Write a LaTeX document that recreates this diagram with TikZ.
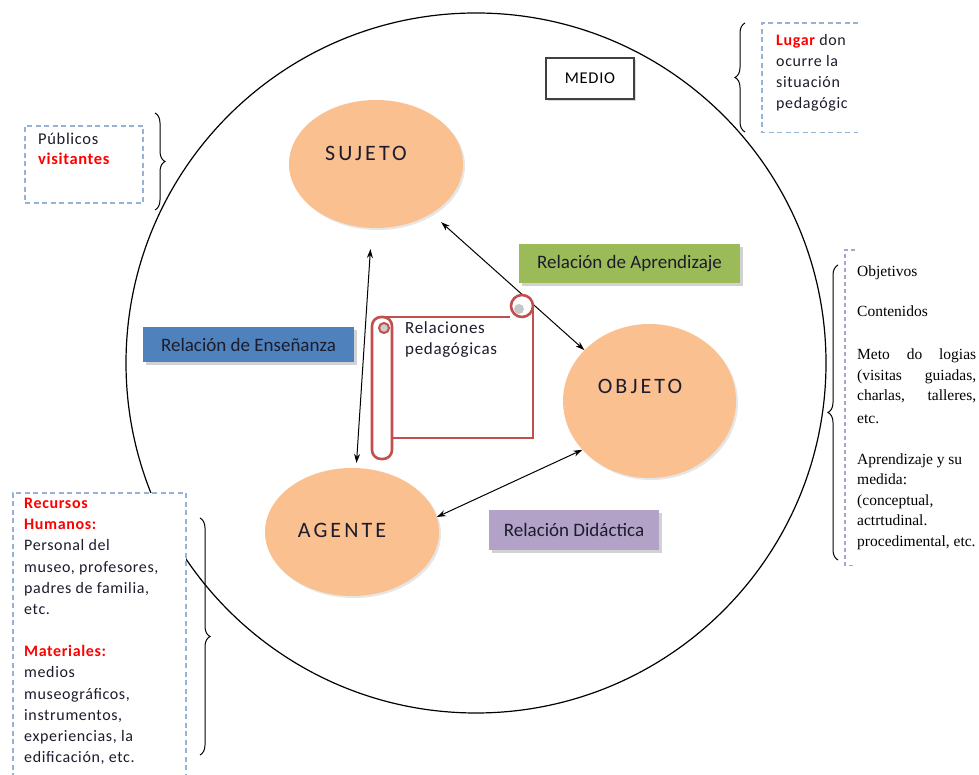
\documentclass[tikz,border=0pt]{standalone}
\usepackage{fontspec}
\setmainfont{Carlito}
\newfontfamily\calspaced[LetterSpace=4]{Carlito}
\newfontfamily\calwide[LetterSpace=14]{Carlito}
\newfontfamily\timesrm{Liberation Serif}
\usetikzlibrary{arrows.meta,positioning,shapes.geometric,shadows,decorations.pathreplacing}
\definecolor{peach}{HTML}{FAC090}
\definecolor{relgreen}{HTML}{9BBB59}
\definecolor{relblue}{HTML}{4F81BD}
\definecolor{relpurple}{HTML}{B3A2C7}
\definecolor{scrollred}{HTML}{C0504D}
\definecolor{dashblue}{HTML}{95B3D7}
\definecolor{dashlav}{HTML}{A5A5CF}
\definecolor{inkdark}{HTML}{1C1C2C}
\newcommand\spreadline[1]{\hbox to 119pt{#1}}

\begin{document}
\begin{tikzpicture}[x=1pt,y=1pt,>={Stealth[length=9pt,width=6pt]},
  actor/.style={ellipse,fill=peach,draw=none,inner sep=0pt,
                drop shadow={shadow xshift=2pt,shadow yshift=-2pt,opacity=0.2}},
  actorlab/.style={font=\calwide\fontsize{22}{26}\selectfont,text=inkdark},
  relbox/.style={draw=none,inner sep=0pt,font=\fontsize{19}{22}\selectfont,text=inkdark,
                 drop shadow={shadow xshift=3pt,shadow yshift=-3pt,fill=black!35,opacity=0.5}},
  rel/.style={<->,line width=1pt},
  notebox/.style={draw=dashblue,line width=1.6pt,dash pattern=on 5pt off 3.5pt,fill=white,inner sep=0pt},
  notetxt/.style={font=\calspaced\fontsize{16}{21.2}\selectfont,text=inkdark,align=left,inner sep=0pt,anchor=north west},
  bracer/.style={decorate,decoration={brace,amplitude=10pt},line width=1pt},
  scrollln/.style={draw=scrollred,line width=2.6pt,fill=white}]

\useasboundingbox (0,0) rectangle (979,775);
\clip (0,0) rectangle (979,775);

% ===== medio (big circle) =====
\node[circle,draw,line width=1.2pt,minimum size=700pt,inner sep=0pt] (medio) at (476,412) {};
\node[draw=black!75,line width=1.5pt,fill=white,minimum width=88pt,minimum height=41pt,inner sep=0pt,
      font=\calspaced\fontsize{16.5}{19}\selectfont,
      drop shadow={shadow xshift=2pt,shadow yshift=-2pt,opacity=0.3}] (mediolab) at (590,696.5) {MEDIO};

% ===== actors =====
\node[actor,minimum width=174pt,minimum height=128pt] (sujeto) at (376,611) {};
\node[actorlab] at ([xshift=-10pt,yshift=11pt]sujeto.center) {SUJETO};
\node[actor,minimum width=173pt,minimum height=154pt] (objeto) at (649.5,374) {};
\node[actorlab] at ([xshift=-9.5pt,yshift=15pt]objeto.center) {OBJETO};
\node[actor,minimum width=174pt,minimum height=128pt] (agente) at (352,243) {};
\node[actorlab] at ([xshift=-10pt,yshift=2pt]agente.center) {AGENTE};

% ===== relations =====
\draw[rel,shorten <=21pt,shorten >=5pt] (sujeto) -- (agente);
\draw[rel,shorten <=13pt] (sujeto) -- (objeto.142);
\draw[rel] (agente.10) -- (objeto.216);

\node[relbox,fill=relgreen,minimum width=221pt,minimum height=39pt] (aprend) at (629.5,511.5) {Relación de Aprendizaje};
\node[relbox,fill=relblue,minimum width=211pt,minimum height=35pt] (ensen) at (248.5,430.5) {Relación de Enseñanza};
\node[relbox,fill=relpurple,minimum width=170pt,minimum height=40pt] (didac) at (574,245) {Relación Didáctica};

% ===== scroll =====
\fill[white] (392,337) rectangle (533,469);
\draw[scrollln] (392,337) -- (533,337) -- (533,469);
\draw[scrollln] (385,458) -- (510,458);
\filldraw[scrollln] (522,469) circle (11);
\fill[gray!45] (519,466) circle (5);
\filldraw[scrollln,rounded corners=9pt] (372,316) rectangle (392,458);
\filldraw[scrollln,line width=2pt,fill=gray!40] (384,447) circle (5);
\node[font=\calspaced\fontsize{17}{21}\selectfont,text=inkdark,align=left,inner sep=0pt,anchor=north west]
      (pedag) at (405,453) {Relaciones\\pedagógicas};

% ===== publicos =====
\node[notebox,minimum width=118pt,minimum height=77pt] (pubbox) at (84,610.5) {};
\node[notetxt,font=\calspaced\fontsize{16.5}{20}\selectfont] (pubtxt) at (38,642) {Públicos\\{\color{red}\bfseries visitantes}};
\draw[bracer] (155,662) -- (155,565);

% ===== lugar =====
\node[minimum width=96pt,minimum height=109pt,inner sep=0pt,anchor=north west] (lugarbox) at (762,752) {};
\draw[notebox] (lugarbox.north east) -- (lugarbox.north west) -- (lugarbox.south west) -- (lugarbox.south east);
\node[notetxt] (lugartxt) at (776,741) {{\color{red}\bfseries Lugar} don\\ocurre la\\situación\\pedagógic};
\draw[bracer] (745,643) -- (745,752);

% ===== recursos =====
\node[notebox,minimum width=173pt,minimum height=300pt,anchor=north west] (recbox) at (12,283) {};
\node[notetxt] (rectxt) at (24,277) {{\color{red}\bfseries Recursos}\\
  {\color{red}\bfseries Humanos:}\\
  Personal del\\
  museo, profesores,\\
  padres de familia,\\
  etc.\\[21pt]
  {\color{red}\bfseries Materiales:}\\
  medios\\
  museográficos,\\
  instrumentos,\\
  experiencias, la\\
  edificación, etc.};
\draw[bracer] (200,257) -- (200,20);

% ===== objetivos =====
\node[minimum width=140pt,minimum height=315pt,inner sep=0pt,anchor=north west] (objbox) at (845,525) {};
\draw[draw=dashlav,line width=1.3pt,dash pattern=on 4pt off 3pt]
  ([xshift=10pt]objbox.north west) -- (objbox.north west) -- (objbox.south west) -- ([xshift=10pt]objbox.south west);
\node[notetxt,font=\timesrm\fontsize{15.5}{20.5}\selectfont,text=black] (objtxt) at (857,509) {Objetivos\\[19.5pt]
  Contenidos\\[22.5pt]
  \spreadline{Meto\hfill do\hfill logias}\\
  \spreadline{(visitas\hfill guiadas,}\\
  \spreadline{charlas,\hfill talleres,}\\[2pt]
  etc.\\[20.5pt]
  Aprendizaje y su\\
  medida:\\
  (conceptual,\\
  actrtudinal.\\
  procedimental, etc.};
\draw[bracer] (838,215) -- (838,510);

\end{tikzpicture}
\end{document}
